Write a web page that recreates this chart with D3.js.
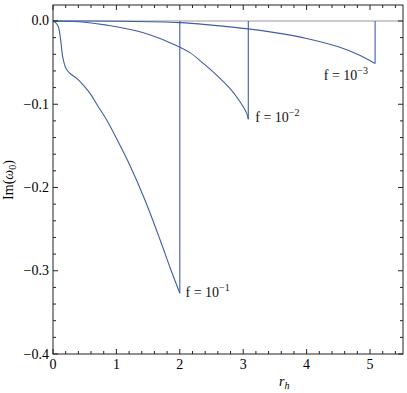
<!DOCTYPE html>
<html>
<head>
<meta charset="utf-8">
<script src="https://cdn.jsdelivr.net/npm/d3@7"></script>
<style>
  body { margin: 0; background: #fff; }
  svg text { font-family: "Liberation Serif", "Times New Roman", Times, serif; }
</style>
</head>
<body>
<script>
// Chart data
var rh1 = [0, 0.04, 0.084, 0.121, 0.153, 0.205, 0.268, 0.374, 0.478, 0.584, 0.714, 0.847, 1.0, 1.21, 1.45, 1.69, 1.85, 2.0];
var im1 = [0, -0.002, -0.007, -0.023, -0.043, -0.057, -0.063, -0.069, -0.077, -0.087, -0.103, -0.119, -0.141, -0.173, -0.215, -0.263, -0.297, -0.327];

var rh2 = [0, 0.5, 0.85, 1.37, 1.845, 2.16, 2.37, 2.58, 2.79, 2.95, 3.055, 3.08];
var im2 = [0, -0.0015, -0.005, -0.013, -0.026, -0.038, -0.051, -0.065, -0.081, -0.097, -0.111, -0.118];

var rh3 = [0, 1.0, 2.0, 2.5, 3.08, 3.5, 4.0, 4.5, 4.8, 5.08];
var im3 = [0, -0.0003, -0.002, -0.005, -0.0095, -0.014, -0.021, -0.031, -0.040, -0.051];

var labels = ["-1", "-2", "-3"];
var xTicks = [0, 1, 2, 3, 4, 5];
var yTicks = [0, -0.1, -0.2, -0.3, -0.4];

var svgWidth = 407, svgHeight = 393;
var margin = { top: 5, right: 4, bottom: 39, left: 53 };
var chartWidth = svgWidth - margin.left - margin.right;
var chartHeight = svgHeight - margin.top - margin.bottom;

var svg = d3.select("body").append("svg")
  .attr("width", svgWidth)
  .attr("height", svgHeight);

var chartGroup = svg.append("g")
  .attr("transform", `translate(${margin.left}, ${margin.top})`);

var xScale = d3.scaleLinear().domain([0, 5.52]).range([0, chartWidth]);
var yScale = d3.scaleLinear().domain([-0.4, 0.0192]).range([chartHeight, 0]);

var blue = "#3f5da6";

// zero line
chartGroup.append("line")
  .attr("x1", 0).attr("x2", chartWidth)
  .attr("y1", yScale(0)).attr("y2", yScale(0))
  .attr("stroke", "#9a9a9a").attr("stroke-width", 1);

var line = d3.line().x(d => xScale(d[0])).y(d => yScale(d[1])).curve(d3.curveCatmullRom.alpha(0.5));

var series = [[rh1, im1], [rh2, im2], [rh3, im3]];
series.forEach(function(s) {
  var pts = s[0].map((x, i) => [x, s[1][i]]);
  chartGroup.append("path")
    .attr("d", line(pts))
    .attr("fill", "none")
    .attr("stroke", blue)
    .attr("stroke-width", 1.1);
  var last = pts[pts.length - 1];
  chartGroup.append("line")
    .attr("x1", xScale(last[0])).attr("x2", xScale(last[0]))
    .attr("y1", yScale(0)).attr("y2", yScale(last[1]))
    .attr("stroke", blue).attr("stroke-width", 1.1);
});

// curve labels
var labelPos = [[2.09, -0.331], [3.19, -0.121], [4.27, -0.071]];
labelPos.forEach(function(p, i) {
  var t = chartGroup.append("text")
    .attr("x", xScale(p[0])).attr("y", yScale(p[1]))
    .attr("font-size", 14).attr("fill", "#111");
  t.append("tspan").text("f = 10");
  t.append("tspan").attr("dy", -6).attr("font-size", 10).text(labels[i].replace("-", "\u2212"));
});

// frame
chartGroup.append("rect")
  .attr("width", chartWidth).attr("height", chartHeight)
  .attr("fill", "none").attr("stroke", "#222").attr("stroke-width", 1);

var fmt = d => d === 0 ? "0.0" : d3.format(".1f")(d).replace("-", "\u2212");

// ticks on all four sides
var xMinor = d3.range(0, 5.52, 0.2);
var yMinor = d3.range(-0.4, 0.019, 0.02);

function xTickMarks(y0, dir) {
  chartGroup.selectAll(null).data(xMinor).enter().append("line")
    .attr("x1", d => xScale(d)).attr("x2", d => xScale(d))
    .attr("y1", y0).attr("y2", d => y0 + dir * (Math.abs(d - Math.round(d)) < 1e-6 ? 5 : 3))
    .attr("stroke", "#222");
}
function yTickMarks(x0, dir) {
  chartGroup.selectAll(null).data(yMinor).enter().append("line")
    .attr("y1", d => yScale(d)).attr("y2", d => yScale(d))
    .attr("x1", x0).attr("x2", d => x0 + dir * (Math.abs(d * 10 - Math.round(d * 10)) < 1e-6 ? 5 : 3))
    .attr("stroke", "#222");
}
xTickMarks(chartHeight, -1);
xTickMarks(0, 1);
yTickMarks(0, 1);
yTickMarks(chartWidth, -1);

chartGroup.selectAll(null).data(xTicks).enter().append("text")
  .attr("x", d => xScale(d)).attr("y", chartHeight + 15)
  .attr("text-anchor", "middle").attr("font-size", 14)
  .text(d => d);

chartGroup.selectAll(null).data(yTicks).enter().append("text")
  .attr("x", -4).attr("y", d => yScale(d) + 4.5)
  .attr("text-anchor", "end").attr("font-size", 14)
  .text(fmt);

// axis titles
var xt = chartGroup.append("text")
  .attr("x", 226).attr("y", chartHeight + 32)
  .attr("font-size", 14).attr("font-style", "italic");
xt.append("tspan").text("r");
xt.append("tspan").attr("dy", 2.5).attr("font-size", 10).text("h");

var yt = svg.append("text")
  .attr("transform", `translate(13, 180) rotate(270)`)
  .attr("text-anchor", "middle").attr("font-size", 14);
yt.append("tspan").text("Im(");
yt.append("tspan").attr("font-style", "italic").text("\u03c9");
yt.append("tspan").attr("dy", 3).attr("font-size", 10).text("0");
yt.append("tspan").attr("dy", -3).text(")");
</script>
</body>
</html>
